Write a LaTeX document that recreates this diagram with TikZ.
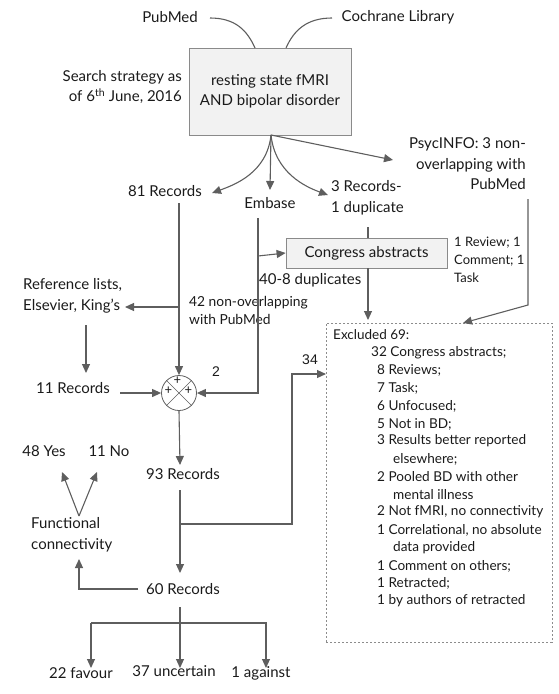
\documentclass[tikz,border=0pt]{standalone}
\usepackage{fontspec}
\setmainfont{Lato}
\newfontfamily\arialfont{Liberation Sans}
\usetikzlibrary{arrows.meta,calc}
\definecolor{ln}{HTML}{5E5E5E}
\definecolor{tx}{HTML}{1A1A1A}
\definecolor{boxfill}{HTML}{F2F2F2}
\definecolor{boxline}{HTML}{8A8A8A}
\definecolor{dashc}{HTML}{8C8C8C}
\begin{document}
\begin{tikzpicture}[x=1pt,y=-1pt,
  every node/.style={text=tx, font=\fontsize{15}{20.5}\selectfont, inner sep=0pt},
  conn/.style={draw=ln, line width=1.1pt},
  arr/.style={conn, -{Triangle[length=9pt,width=8pt]}},
  procbox/.style={draw=boxline, fill=boxfill, line width=0.8pt},
  exitem/.style={anchor=west, font=\fontsize{13.6}{16}\selectfont},
  numlbl/.style={font=\arialfont\fontsize{14}{16}\selectfont},
]
\useasboundingbox (0,0) rectangle (559,694);

% ---------- nodes ----------
\node (pubmed) at (170,17) {PubMed};
\node (cochrane) at (398,17) {Cochrane Library};
\node[procbox, minimum width=162pt, minimum height=87pt, align=center] (main) at (270,91.5) {resting state fMRI\\AND bipolar disorder};
\node[anchor=east, align=right] (strategy) at (182,87) {Search strategy as\\of 6\textsuperscript{th} June, 2016};
\node (r81) at (165,191) {81 Records};
\node (embase) at (270,203) {Embase};
\node[anchor=west, align=left] (r3) at (331,198) {3 Records-\\1 duplicate};
\node[anchor=east, align=right] (psyc) at (526,164) {PsycINFO: 3 non-\\overlapping with\\PubMed};
\node[procbox, minimum width=161pt, minimum height=30pt] (congress) at (366.5,253) {Congress abstracts};
\node[anchor=west, align=left, font=\fontsize{13}{18}\selectfont] (review) at (454,260) {1 Review; 1\\Comment; 1\\Task};
\node[anchor=west] (dup40) at (259,280) {40-8 duplicates};
\node[anchor=west, align=left, font=\fontsize{13.8}{18}\selectfont] (n42) at (189,310) {42 non-overlapping\\with PubMed};
\node[anchor=west, align=left] (refl) at (23,296) {Reference lists,\\Elsevier, King’s};
\node (r11) at (73,388) {11 Records};
\node[draw=ln, circle, minimum size=35pt, line width=0.8pt] (circ) at (179,393) {};
\node[font=\fontsize{13}{16}\selectfont] (pl1) at (177.5,381) {+};
\node[font=\fontsize{13}{16}\selectfont] (pl2) at (168.5,391) {+};
\node[font=\fontsize{13}{16}\selectfont] (pl3) at (188.5,391) {+};
\node[numlbl] (two) at (216,372) {2};
\node[numlbl] (thirtyfour) at (310,360) {34};
\node[draw=dashc, dash pattern=on 2.2pt off 1.8pt, line width=0.7pt, minimum width=226pt, minimum height=319pt] (excl) at (439,482.5) {};
\node[exitem, font=\fontsize{13.5}{16}\selectfont] (ex1) at (333,335) {Excluded 69:};
\node[exitem] (ex2) at (371,353) {32 Congress abstracts;};
\node[exitem] (ex3) at (377,370) {8 Reviews;};
\node[exitem] (ex4) at (377,388) {7 Task;};
\node[exitem] (ex5) at (377,406) {6 Unfocused;};
\node[exitem] (ex6) at (377,424) {5 Not in BD;};
\node[exitem] (ex7) at (377,441) {3 Results better reported};
\node[exitem] (ex8) at (393,459) {elsewhere;};
\node[exitem] (ex9) at (377,477) {2 Pooled BD with other};
\node[exitem] (ex10) at (393,495) {mental illness};
\node[exitem] (ex11) at (377,512) {2 Not fMRI, no connectivity};
\node[exitem] (ex12) at (377,530) {1 Correlational, no absolute};
\node[exitem] (ex13) at (393,548) {data provided};
\node[exitem] (ex14) at (377,566) {1 Comment on others;};
\node[exitem] (ex15) at (377,583) {1 Retracted;};
\node[exitem] (ex16) at (377,601) {1 by authors of retracted};
\node (yes) at (44,451) {48 Yes};
\node (no) at (109,451) {11 No};
\node[anchor=west, align=left] (func) at (31,535) {Functional\\connectivity};
\node (r93) at (183,474) {93 Records};
\node (r60) at (183,589) {60 Records};
\node (favour) at (81,673) {22 favour};
\node (uncertain) at (174,671) {37 uncertain};
\node (against) at (261,673) {1 against};

% ---------- coordinates ----------
\coordinate (pmStart) at (210,18);
\coordinate (pmEnd) at (255,48);
\coordinate (coStart) at (332,18);
\coordinate (coEnd) at (286,48);
\coordinate (ms) at (271,135);
\coordinate (a81) at (212,193);
\coordinate (aEmb) at (270,190);
\coordinate (a3) at (328,195);
\coordinate (aPsy) at (393,160);
\coordinate (s81) at (179,203);
\coordinate (jRef) at (179,307);
\coordinate (aRef) at (125,307);
\coordinate (sRef) at (86,325);
\coordinate (aR11) at (86,373);
\coordinate (sR11) at (120,393);
\coordinate (sEmb) at (258,218);
\coordinate (jCon) at (258,256);
\coordinate (cEmb) at (258,393);
\coordinate (s3) at (368,227);
\coordinate (sCon) at (368,268);
\coordinate (aCon) at (368,320);
\coordinate (sPsy) at (528,199);
\coordinate (cPsy) at (528,305);
\coordinate (aPsyEx) at (463,323);
\coordinate (a93) at (180,465);
\coordinate (s93) at (180,490);
\coordinate (j93) at (180,524);
\coordinate (c34a) at (292,524);
\coordinate (c34b) at (292,374);
\coordinate (a34) at (326,374);
\coordinate (a60) at (180,573);
\coordinate (s60w) at (138,589);
\coordinate (c60w) at (79,589);
\coordinate (aFunc) at (79,559);
\coordinate (sFunc) at (79,516);
\coordinate (aYes) at (62,472);
\coordinate (aNo) at (97,472);
\coordinate (s60) at (180,607);
\coordinate (j60) at (180,623);
\coordinate (cFav) at (91,623);
\coordinate (cAg) at (266,623);
\coordinate (aFav) at (91,668);
\coordinate (aUnc) at (180,668);
\coordinate (aAg) at (266,668);

% ---------- connectors ----------
\draw[conn] (pmStart) .. controls +(25,0) and +(-8,-18) .. (pmEnd);
\draw[conn] (coStart) .. controls +(-25,0) and +(8,-18) .. (coEnd);
\draw[arr] (ms) .. controls +(-4,38) and +(22,-8) .. (a81);
\draw[arr] (ms) -- (aEmb);
\draw[arr] (ms) .. controls +(4,38) and +(-22,-8) .. (a3);
\draw[arr] (ms) -- (aPsy);

\draw[arr] (s81) -- (circ.north);
\draw[arr] (jRef) -- (aRef);
\draw[arr] (sRef) -- (aR11);
\draw[arr] (sR11) -- (circ.west);
\draw[arr] (sEmb) -- (cEmb) -- (circ.east);
\draw[arr] (jCon) -- (congress.west);
\draw[conn] (s3) -- (s3 |- congress.north);
\draw[arr] (sCon) -- (aCon);
\draw[arr] (sPsy) -- (cPsy) -- (aPsyEx);

\draw[arr] (circ.south) -- (a93);
\draw[arr] (s93) -- (a60);
\draw[arr] (j93) -- (c34a) -- (c34b) -- (a34);
\draw[arr] (s60w) -- (c60w) -- (aFunc);
\draw[arr] (sFunc) -- (aYes);
\draw[arr] (sFunc) -- (aNo);
\draw[arr] (s60) -- (aUnc);
\draw[arr] (cFav) -- (cAg) -- (aAg);
\draw[arr] (cFav) -- (aFav);

% X in the summing circle
\draw[draw=ln, line width=0.6pt] (circ.north west) -- (circ.south east);
\draw[draw=ln, line width=0.6pt] (circ.north east) -- (circ.south west);
\end{tikzpicture}
\end{document}
